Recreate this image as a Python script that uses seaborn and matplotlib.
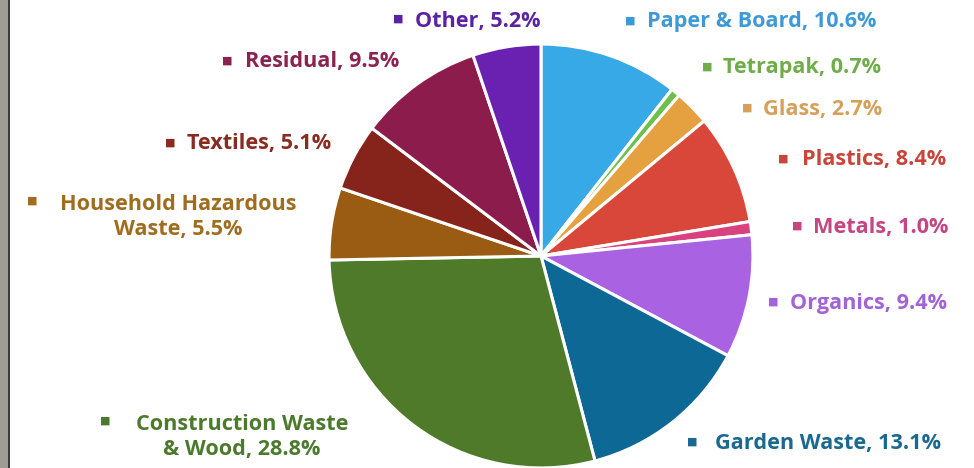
import matplotlib
matplotlib.use("Agg")
import matplotlib.pyplot as plt
import seaborn as sns
from matplotlib.patches import Rectangle

# waste composition, clockwise from 12 o'clock
categories = ["Paper & Board", "Tetrapak", "Glass", "Plastics", "Metals", "Organics",
              "Garden Waste", "Construction Waste\n& Wood", "Household Hazardous\nWaste",
              "Textiles", "Residual", "Other"]
shares = [10.6, 0.7, 2.7, 8.4, 1.0, 9.4, 13.1, 28.8, 5.5, 5.1, 9.5, 5.2]

wedge_colors = ["#36A9E6", "#6DC04B", "#E5A03F", "#D9473A", "#D8427F", "#A963E2",
                "#0E6896", "#4E7A29", "#9A5B12", "#86231A", "#8C1C4B", "#6A21B1"]
text_colors = ["#3D9AD6", "#6EAE49", "#D7A05A", "#C9453C", "#C44682", "#A262D8",
               "#1B6890", "#4C7A2C", "#A06C1E", "#8A2B22", "#8A2352", "#5B22A2"]

# label layout in pixels (top-origin): marker x, text x (left edge, or centre for
# two-line labels), text y (centre of the block), marker y
label_pos = [(625, 647, 22, 21), (702, 723, 68, 67), (742, 763, 109, 108),
             (778, 802, 160, 159), (792, 813, 227, 226), (768, 790, 304, 302),
             (687, 715, 443, 442), (100, 242, 437, 421), (27, 178, 217, 201),
             (165, 187, 144, 143), (222, 245, 62, 61), (393, 415, 21, 19)]

sns.set_theme(style="white")
plt.rcParams["font.family"] = ["Open Sans", "DejaVu Sans"]

W, H = 974, 468
fig = plt.figure(figsize=(W / 100, H / 100), dpi=100)
fig.patch.set_facecolor("white")

# stone strip at the left edge
fig.patches.append(Rectangle((0, 0), 8 / W, 1, transform=fig.transFigure,
                             facecolor="#9d9c97", edgecolor="none", zorder=0))
fig.patches.append(Rectangle((8 / W, 0), 1.5 / W, 1, transform=fig.transFigure,
                             facecolor="#3a3a38", edgecolor="none", zorder=0))

cx, cy, r = 541, 256, 213
ax = fig.add_axes([(cx - r) / W, (H - cy - r) / H, 2 * r / W, 2 * r / H])
ax.pie(shares, colors=wedge_colors, startangle=90, counterclock=False, radius=1,
       wedgeprops=dict(edgecolor="white", linewidth=2.2))
ax.set_xlim(-1.005, 1.005)
ax.set_ylim(-1.005, 1.005)
ax.set_aspect("equal")
ax.axis("off")

fs = 15.6
for name, val, col, (mx, tx, ty, my) in zip(categories, shares, text_colors, label_pos):
    label = f"{name}, {val:.1f}%"
    if "\n" in label:
        fig.text(tx / W, 1 - ty / H, label, color=col, fontsize=fs, fontweight="bold",
                 ha="center", va="center", ma="center", linespacing=1.3)
    else:
        fig.text(tx / W, 1 - ty / H, label, color=col, fontsize=fs, fontweight="bold",
                 ha="left", va="center")
    fig.text(mx / W, 1 - my / H, "\u25a0", color=col, fontsize=8,
             ha="left", va="center", family="DejaVu Sans")

fig.savefig("out.png", dpi=100, facecolor="white")
